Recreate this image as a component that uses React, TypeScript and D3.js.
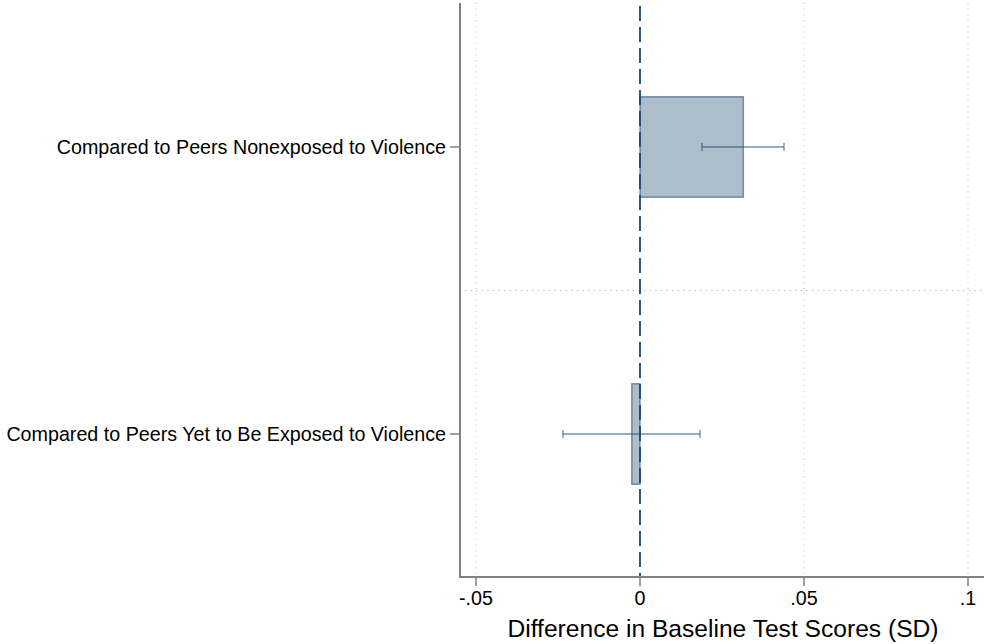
import React from "react";
import * as d3 from "d3";

const categories = [
  "Compared to Peers Nonexposed to Violence",
  "Compared to Peers Yet to Be Exposed to Violence",
];
const estimates = [0.0315, -0.0025];
const ciLow = [0.0189, -0.0235];
const ciHigh = [0.0439, 0.0183];
const xTicks = [-0.05, 0, 0.05, 0.1];
const xTickLabels = ["-.05", "0", ".05", ".1"];
const xTitle = "Difference in Baseline Test Scores (SD)";

const W = 984;
const H = 644;
const plotLeft = 460;
const plotRight = 984;
const plotTop = 3;
const plotBottom = 577;

export default function App() {
  const x = d3.scaleLinear().domain([-0.05, 0.1]).range([476, 968]);
  const y = d3
    .scaleBand()
    .domain(categories)
    .range([plotTop + 0.5, plotBottom + 0.5])
    .paddingInner(0)
    .paddingOuter(0);
  const bw = y.bandwidth();
  const barH = bw * 0.35;
  const navy = "#1a476f";
  const font = "Arial, 'Liberation Sans', sans-serif";

  return (
    <div style={{ position: "absolute", left: 0, top: 0 }}>
      <svg width={W} height={H} style={{ display: "block" }}>
        <rect x={0} y={0} width={W} height={H} fill="#fff" />
        {xTicks
          .filter((t) => t !== 0)
          .map((t) => (
            <line
              key={"g" + t}
              x1={x(t)}
              x2={x(t)}
              y1={plotTop}
              y2={plotBottom}
              stroke="#bdbdbd"
              strokeWidth={1}
              strokeDasharray="1,4.7"
            />
          ))}
        {categories.slice(1).map((c) => (
          <line
            key={"s" + c}
            x1={plotLeft + 5}
            x2={plotRight}
            y1={(y(c) as number)}
            y2={(y(c) as number)}
            stroke="#a8a8a8"
            strokeWidth={1}
            strokeDasharray="1,4.6"
          />
        ))}
        {categories.map((c, i) => {
          const cy = (y(c) as number) + bw / 2;
          const x0 = Math.min(x(0), x(estimates[i]));
          const x1 = Math.max(x(0), x(estimates[i]));
          return (
            <rect
              key={"b" + i}
              x={x0}
              y={cy - barH / 2}
              width={x1 - x0}
              height={barH}
              fill="rgb(174,189,204)"
              stroke="rgba(26,71,111,0.55)"
              strokeWidth={1.5}
            />
          );
        })}
        <line
          x1={x(0)}
          x2={x(0)}
          y1={plotTop}
          y2={plotBottom}
          stroke={navy}
          strokeWidth={1.8}
          strokeDasharray="15,6"
          strokeDashoffset={-3}
        />
        {categories.map((c, i) => {
          const cy = (y(c) as number) + bw / 2;
          const col = "rgba(26,71,111,0.45)";
          return (
            <g key={"e" + i}>
              <line x1={x(ciLow[i])} x2={x(ciHigh[i])} y1={cy} y2={cy} stroke={col} strokeWidth={1.8} />
              <line x1={x(ciLow[i])} x2={x(ciLow[i])} y1={cy - 4} y2={cy + 4} stroke={col} strokeWidth={1.8} />
              <line x1={x(ciHigh[i])} x2={x(ciHigh[i])} y1={cy - 4} y2={cy + 4} stroke={col} strokeWidth={1.8} />
            </g>
          );
        })}
        <line x1={plotLeft} x2={plotLeft} y1={plotTop} y2={plotBottom + 1} stroke="#808080" strokeWidth={2} />
        <line x1={plotLeft - 1} x2={plotRight} y1={plotBottom} y2={plotBottom} stroke="#808080" strokeWidth={2} />
        {xTicks.map((t, i) => (
          <g key={"t" + t}>
            <line x1={x(t)} x2={x(t)} y1={plotBottom} y2={plotBottom + 9} stroke="#808080" strokeWidth={1.5} />
            <text x={x(t)} y={605} textAnchor="middle" fontFamily={font} fontSize={19.7} fill="#000">
              {xTickLabels[i]}
            </text>
          </g>
        ))}
        {categories.map((c) => {
          const cy = (y(c) as number) + bw / 2;
          return (
            <g key={"l" + c}>
              <line x1={plotLeft - 10} x2={plotLeft} y1={cy} y2={cy} stroke="#808080" strokeWidth={1.5} />
              <text
                x={plotLeft - 14}
                y={cy}
                dy="0.35em"
                textAnchor="end"
                fontFamily={font}
                fontSize={19.7}
                fill="#000"
              >
                {c}
              </text>
            </g>
          );
        })}
        <text
          x={(plotLeft + plotRight) / 2 + 1}
          y={637}
          textAnchor="middle"
          fontFamily={font}
          fontSize={24.6}
          fill="#000"
        >
          {xTitle}
        </text>
      </svg>
    </div>
  );
}
